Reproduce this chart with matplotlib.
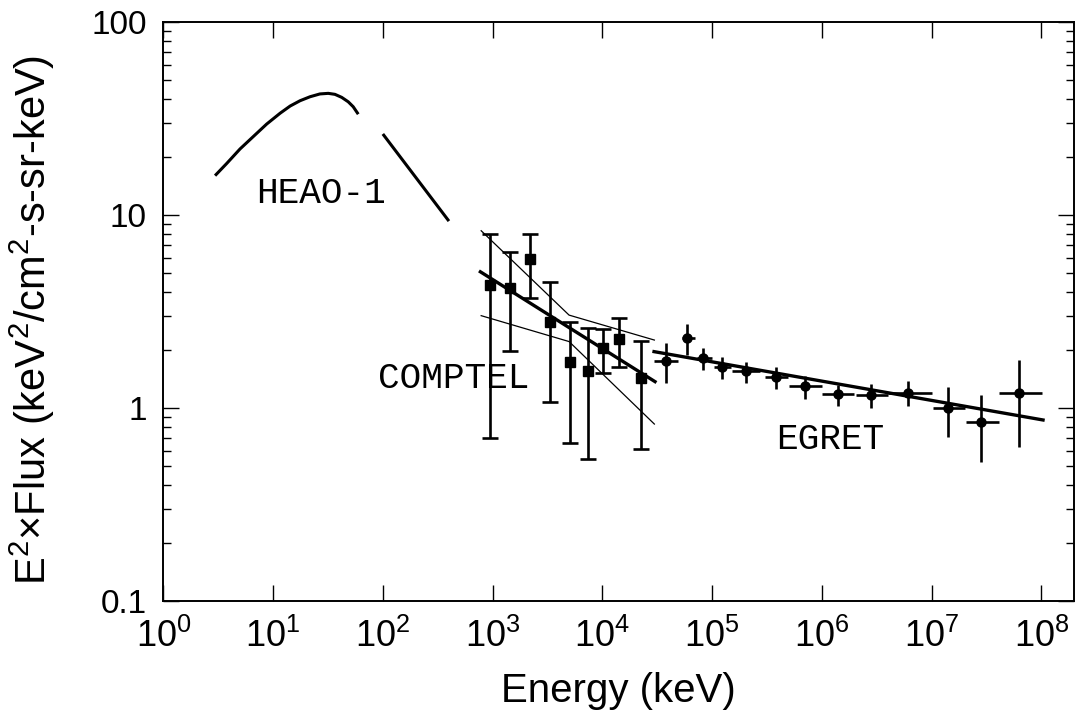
import matplotlib
matplotlib.use('Agg')
import matplotlib.pyplot as plt
from matplotlib.ticker import FixedLocator, NullLocator, FixedFormatter, LogLocator, NullFormatter

plt.rcParams['font.family'] = ['Liberation Sans', 'DejaVu Sans']
plt.rcParams['mathtext.fontset'] = 'custom'
plt.rcParams['mathtext.rm'] = 'Liberation Sans'
plt.rcParams['mathtext.it'] = 'Liberation Sans:italic'
plt.rcParams['mathtext.bf'] = 'Liberation Sans:bold'

# HEAO-1 spectrum (two pieces)
heao_e1 = [2.96, 3.78, 5.00, 6.60, 8.74, 11.6, 14.3, 17.6, 21.7, 26.7, 31.8, 36.6,
           42.2, 48.4, 53.7, 59.7]
heao_f1 = [16.0, 18.5, 22.0, 25.5, 29.6, 33.7, 36.7, 39.1, 41.0, 42.4, 42.7, 42.2,
           40.7, 38.6, 36.4, 33.3]
heao_e2 = [100, 400]
heao_f2 = [26.3, 9.3]

# COMPTEL points
comp_e = [950, 1426, 2173, 3359, 5045, 7328, 10170, 14250, 22490]
comp_f = [4.34, 4.20, 5.89, 2.78, 1.73, 1.56, 2.04, 2.27, 1.43]
comp_hi = [7.97, 6.41, 8.0, 4.50, 2.78, 2.59, 2.56, 2.92, 2.23]
comp_lo = [0.697, 1.98, 3.73, 1.08, 0.661, 0.544, 1.52, 1.64, 0.611]

# COMPTEL fit + envelope
comp_fit_e = [774, 30200]
comp_fit_f = [5.08, 1.37]
comp_up_e = [787, 4975, 29780]
comp_up_f = [8.29, 3.03, 2.25]
comp_dn_e = [787, 4975, 29780]
comp_dn_f = [3.01, 2.21, 0.826]

# EGRET points
egret_e = [3.81e4, 5.89e4, 8.35e4, 1.23e5, 2.05e5, 3.84e5, 6.95e5, 1.40e6,
           2.79e6, 6.12e6, 1.40e7, 2.83e7, 6.25e7]
egret_elo = [2.98e4, 5.30e4, 7.26e4, 1.03e5, 1.52e5, 3.06e5, 5.0e5, 1.01e6,
             2.04e6, 4.02e6, 1.02e7, 2.06e7, 4.10e7]
egret_ehi = [4.93e4, 7.01e4, 9.96e4, 1.49e5, 2.75e5, 4.93e5, 9.95e5, 1.96e6,
             3.97e6, 1.007e7, 2.03e7, 4.10e7, 1.02e8]
egret_f = [1.75, 2.30, 1.81, 1.64, 1.56, 1.45, 1.30, 1.18, 1.17, 1.20, 1.00, 0.849, 1.20]
egret_hi = [2.16, 2.72, 2.04, 1.84, 1.74, 1.64, 1.47, 1.32, 1.33, 1.38, 1.29, 1.17, 1.77]
egret_lo = [1.34, 1.88, 1.57, 1.41, 1.35, 1.25, 1.12, 1.02, 0.995, 1.03, 0.705, 0.527, 0.63]

egret_fit_e = [2.958e4, 1.036e8]
egret_fit_f = [1.96, 0.867]

fig = plt.figure(figsize=(10.76, 7.15), dpi=100)
ax = fig.add_axes([0.1518, 0.1594, 0.8467, 0.8098])
ax.set_xscale('log')
ax.set_yscale('log')
ax.set_xlim(1, 2.0e8)
ax.set_ylim(0.1, 100)

ax.plot(heao_e1, heao_f1, color='black', lw=2.2, solid_capstyle='butt')
ax.plot(heao_e2, heao_f2, color='black', lw=2.2, solid_capstyle='butt')

ax.plot(comp_fit_e, comp_fit_f, color='black', lw=2.4)
ax.plot(comp_up_e, comp_up_f, color='black', lw=0.9)
ax.plot(comp_dn_e, comp_dn_f, color='black', lw=0.9)

yerr_c = [[f - l for f, l in zip(comp_f, comp_lo)], [h - f for f, h in zip(comp_f, comp_hi)]]
ax.errorbar(comp_e, comp_f, yerr=yerr_c, fmt='s', color='black', ms=6.5,
            elinewidth=1.9, capsize=6, capthick=1.9)

ax.plot(egret_fit_e, egret_fit_f, color='black', lw=2.4)
yerr_e = [[f - l for f, l in zip(egret_f, egret_lo)], [h - f for f, h in zip(egret_f, egret_hi)]]
xerr_e = [[e - l for e, l in zip(egret_e, egret_elo)], [h - e for e, h in zip(egret_e, egret_ehi)]]
ax.errorbar(egret_e, egret_f, yerr=yerr_e, xerr=xerr_e, fmt='o', color='black', ms=6.5,
            elinewidth=1.9, capsize=0)

ax.text(27.3, 13.0, 'HEAO-1', family='Liberation Mono', fontsize=26, ha='center', va='center')
ax.text(439, 1.43, 'COMPTEL', family='Liberation Mono', fontsize=26, ha='center', va='center')
ax.text(1.2e6, 0.685, 'EGRET', family='Liberation Mono', fontsize=26, ha='center', va='center')

ax.xaxis.set_major_locator(FixedLocator([10.0 ** k for k in range(9)]))
ax.xaxis.set_major_formatter(FixedFormatter([r'$10^{%d}$' % k for k in range(9)]))
ax.xaxis.set_minor_locator(NullLocator())
ax.yaxis.set_major_locator(FixedLocator([0.1, 1, 10, 100]))
ax.yaxis.set_major_formatter(FixedFormatter(['0.1', '1', '10', '100']))
ax.yaxis.set_minor_locator(LogLocator(base=10, subs=range(2, 10)))
ax.yaxis.set_minor_formatter(NullFormatter())

ax.tick_params(which='both', direction='in', top=True, right=True, width=1.0)
ax.tick_params(which='major', length=11.5)
ax.tick_params(which='minor', length=5.8)
ax.tick_params(axis='x', labelsize=26, pad=13)
ax.tick_params(axis='y', labelsize=24, pad=12)
for s in ax.spines.values():
    s.set_linewidth(1.4)

ax.set_xlabel('Energy (keV)', fontsize=29)
ax.xaxis.set_label_coords(0.499, -0.122)
ax.set_ylabel('E$^2$×Flux (keV$^2$/cm$^2$-s-sr-keV)', fontsize=30)
ax.yaxis.set_label_coords(-0.117, 0.485)

fig.savefig('out.png', dpi=100)
